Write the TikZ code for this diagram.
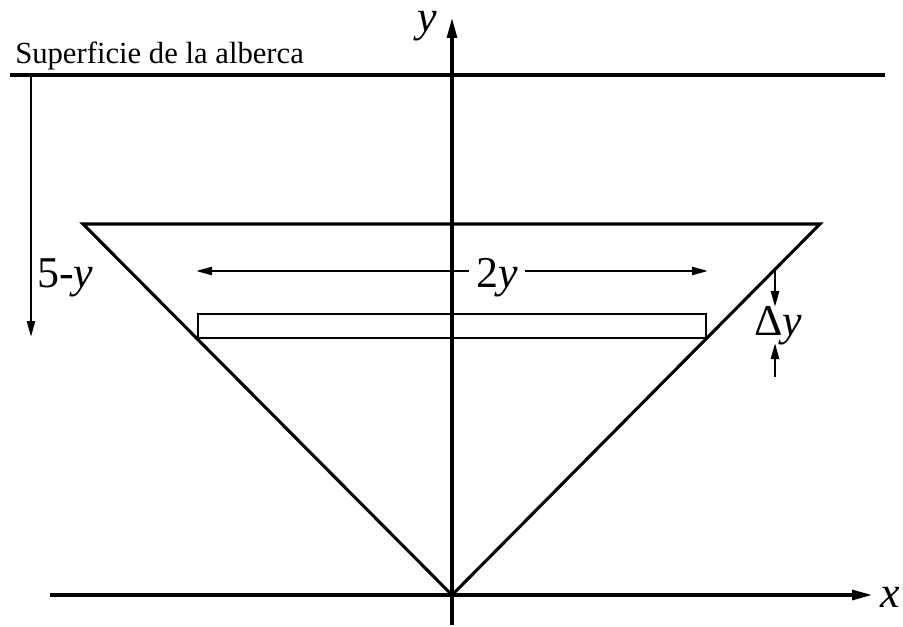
\documentclass[tikz,border=0pt]{standalone}
\usepackage{fontspec}
\setmainfont{Liberation Serif}
\usetikzlibrary{arrows.meta}
\begin{document}
\begin{tikzpicture}[x=0.75pt,y=-0.75pt,
  heavy/.style={line width=2.3pt},
  light/.style={line width=1.8pt},
  axisarrow/.style={-{Triangle[length=15pt,width=7.5pt]}},
  dimarrow/.style={-{Triangle[length=12pt,width=6pt]}},
  biglbl/.style={inner sep=0pt, font=\fontsize{33}{33}\selectfont},
  midlbl/.style={inner sep=0pt, font=\fontsize{33}{33}\selectfont},
  toplbl/.style={inner sep=0pt, font=\fontsize{23}{23}\selectfont}]
\useasboundingbox (0,0) rectangle (903,627);
% key points
\coordinate (O) at (452,595);
\coordinate (TL) at (83,224);
\coordinate (TR) at (820,224);
\coordinate (xs) at (50,595);
\coordinate (xe) at (872,595);
\coordinate (ys) at (452,625);
\coordinate (ye) at (452,18);
\coordinate (sL) at (10,75);
\coordinate (sR) at (885,75);
% surface
\draw[heavy] (sL) -- (sR);
\node[toplbl, anchor=base west] (surf) at (15,64) {Superficie de la alberca};
% axes
\draw[heavy, axisarrow] (xs) -- (xe);
\draw[heavy, axisarrow] (ys) -- (ye);
\node[biglbl, anchor=base west] (xlab) at (880,607) {\textit{x}};
\node[biglbl, anchor=base] (ylab) at (427,32) {\textit{y}};
% triangle
\draw[heavy, line join=miter] (TL) -- (TR) -- (O) -- cycle;
% slab
\coordinate (r1) at (198,314);
\coordinate (r2) at (706,338);
\draw[light] (r1) rectangle (r2);
% 2y dimension
\coordinate (L2) at (196,271);
\coordinate (R2) at (708,271);
\node[biglbl, anchor=base, inner xsep=5pt] (lab2y) at (497,287) {2\textit{y}};
\draw[light, dimarrow] (lab2y.west |- L2) -- (L2);
\draw[light, dimarrow] (lab2y.east |- R2) -- (R2);
% 5-y dimension
\coordinate (a1) at (31,75);
\coordinate (a2) at (31,337);
\draw[light, dimarrow] (a1) -- (a2);
\node[midlbl, anchor=base west] (lab5y) at (37,287) {5-\textit{y}};
% delta y
\coordinate (d1) at (775,268);
\coordinate (d2) at (775,307);
\coordinate (d3) at (775,377);
\coordinate (d4) at (775,343);
\draw[light, dimarrow] (d1) -- (d2);
\draw[light, dimarrow] (d3) -- (d4);
\node[midlbl, anchor=base west] (labdy) at (754,335) {Δ\textit{y}};
\end{tikzpicture}
\end{document}
